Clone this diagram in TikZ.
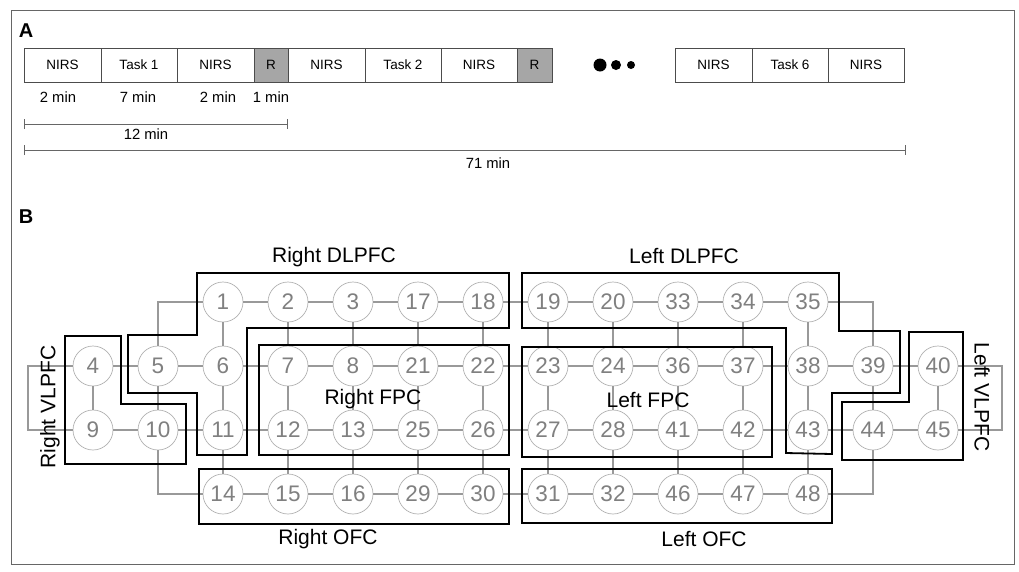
\documentclass[tikz,border=0pt]{standalone}
\usepackage{fontspec}
\setmainfont{Liberation Sans}
\usetikzlibrary{arrows.meta}
\begin{document}
\begin{tikzpicture}[x=1pt,y=-1pt,
 seg/.style={draw=black!70, line width=0.8pt, minimum height=34pt, inner sep=0pt, font=\fontsize{13.5}{14}\selectfont, anchor=center},
 rest/.style={seg, fill=black!35},
 ch/.style={circle, draw=black!30, line width=0.7pt, minimum size=40pt, inner sep=0pt, text=black!50, font=\fontsize{22.5}{22.5}\selectfont, fill=white},
 link/.style={draw=black!40, line width=1.1pt},
 region/.style={draw=black, line width=1.8pt, line join=miter},
 rlab/.style={font=\fontsize{21}{21}\selectfont, inner sep=0pt},
 tl/.style={font=\fontsize{14.8}{15}\selectfont, inner sep=0pt},
 bar/.style={draw=black!60, line width=0.8pt, {Bar[width=10pt]}-{Bar[width=10pt]}},
 plab/.style={font=\fontsize{20}{20}\selectfont\bfseries, inner sep=0pt}
]
\useasboundingbox (0,0) rectangle (1019,571);
\draw[black!60, line width=0.8pt] (11,10) rectangle (1014,564);

% Panel A
\node[plab] (pA) at (26,31) {A};
\node[seg, minimum width=77pt] (s1) at (62.5,65) {NIRS};
\node[seg, minimum width=76pt] (s2) at (139,65) {Task 1};
\node[seg, minimum width=77pt] (s3) at (215.5,65) {NIRS};
\node[rest, minimum width=34pt] (s4) at (271,65) {R};
\node[seg, minimum width=77pt] (s5) at (326.5,65) {NIRS};
\node[seg, minimum width=76pt] (s6) at (403,65) {Task 2};
\node[seg, minimum width=76pt] (s7) at (479,65) {NIRS};
\node[rest, minimum width=35pt] (s8) at (534.5,65) {R};
\fill (600,65) circle (6.5) (616,65) circle (5) (631,65) circle (4);
\node[seg, minimum width=77pt] (s9) at (713.5,65) {NIRS};
\node[seg, minimum width=76pt] (s10) at (790,65) {Task 6};
\node[seg, minimum width=76pt] (s11) at (866,65) {NIRS};

\node[tl] (d1) at (58,97) {2 min};
\node[tl] (d2) at (138,97) {7 min};
\node[tl] (d3) at (218,97) {2 min};
\node[tl] (d4) at (271,97) {1 min};

\coordinate (b12a) at (24,124);
\coordinate (b12b) at (288,124);
\draw[bar] (b12a) -- (b12b);
\node[tl] (l12) at (146,134) {12 min};
\coordinate (b71a) at (24,150);
\coordinate (b71b) at (906,150);
\draw[bar] (b71a) -- (b71b);
\node[tl] (l71) at (488,163) {71 min};

% Panel B
\node[plab] (pB) at (26,217) {B};

\foreach \n/\c/\r in {1/2/1,2/3/1,3/4/1,17/5/1,18/6/1,19/7/1,20/8/1,33/9/1,34/10/1,35/11/1,
 4/0/2,5/1/2,6/2/2,7/3/2,8/4/2,21/5/2,22/6/2,23/7/2,24/8/2,36/9/2,37/10/2,38/11/2,39/12/2,40/13/2,
 9/0/3,10/1/3,11/2/3,12/3/3,13/4/3,25/5/3,26/6/3,27/7/3,28/8/3,41/9/3,42/10/3,43/11/3,44/12/3,45/13/3,
 14/2/4,15/3/4,16/4/4,29/5/4,30/6/4,31/7/4,32/8/4,46/9/4,47/10/4,48/11/4}
 \node[ch] (n\n) at ({93+65*\c},{238+64*\r}) {\n};

\foreach \a/\b in {1/2,2/3,3/17,17/18,18/19,19/20,20/33,33/34,34/35,
 4/5,5/6,6/7,7/8,8/21,21/22,22/23,23/24,24/36,36/37,37/38,38/39,39/40,
 9/10,10/11,11/12,12/13,13/25,25/26,26/27,27/28,28/41,41/42,42/43,43/44,44/45,
 14/15,15/16,16/29,29/30,30/31,31/32,32/46,46/47,47/48,
 4/9,5/10,1/6,6/11,11/14,2/7,7/12,12/15,3/8,8/13,13/16,17/21,21/25,25/29,
 18/22,22/26,26/30,19/23,23/27,27/31,20/24,24/28,28/32,33/36,36/41,41/46,
 34/37,37/42,42/47,35/38,38/43,43/48,39/44,40/45}
 \draw[link] (n\a) -- (n\b);
\draw[link] (n1) -| (n5);
\draw[link] (n14) -| (n10);
\draw[link] (n35) -| (n39);
\draw[link] (n48) -| (n44);
\coordinate (lw) at (28,366);
\coordinate (rw) at (1002,366);
\draw[link] (n4) -- (lw) |- (n9);
\draw[link] (n40) -- (rw) |- (n45);

% regions
\draw[region] (197,273) -- (509,273) -- (509,328) -- (247,328) -- (247,455) -- (197,455) -- (197,393) -- (128,393) -- (128,335) -- (197,335) -- cycle;
\draw[region] (65,336) -- (121,336) -- (121,404) -- (186,404) -- (186,464) -- (65,464) -- cycle;
\draw[region] (259,345) rectangle (509,455);
\draw[region] (199,469) rectangle (509,524);
\draw[region] (522,273) -- (839,273) -- (839,331) -- (900,331) -- (900,393) -- (832,393) -- (832,454) -- (786,453) -- (786,328) -- (522,328) -- cycle;
\draw[region] (909,332) -- (963,332) -- (963,460) -- (842,460) -- (842,402) -- (909,402) -- cycle;
\draw[region] (522,347) rectangle (772,457);
\draw[region] (522,469) rectangle (832,523);

\node[rlab] (rdl) at (334,257) {Right DLPFC};
\node[rlab] (rfp) at (373,399) {Right FPC};
\node[rlab] (rof) at (328,539) {Right OFC};
\node[rlab, rotate=90] (rvl) at (50,407) {Right VLPFC};
\node[rlab] (ldl) at (684,256) {Left DLPFC};
\node[rlab] (lfp) at (648,400) {Left FPC};
\node[rlab] (lof) at (704,539) {Left OFC};
\node[rlab, rotate=-90] (lvl) at (982,397) {Left VLPFC};
\end{tikzpicture}
\end{document}
